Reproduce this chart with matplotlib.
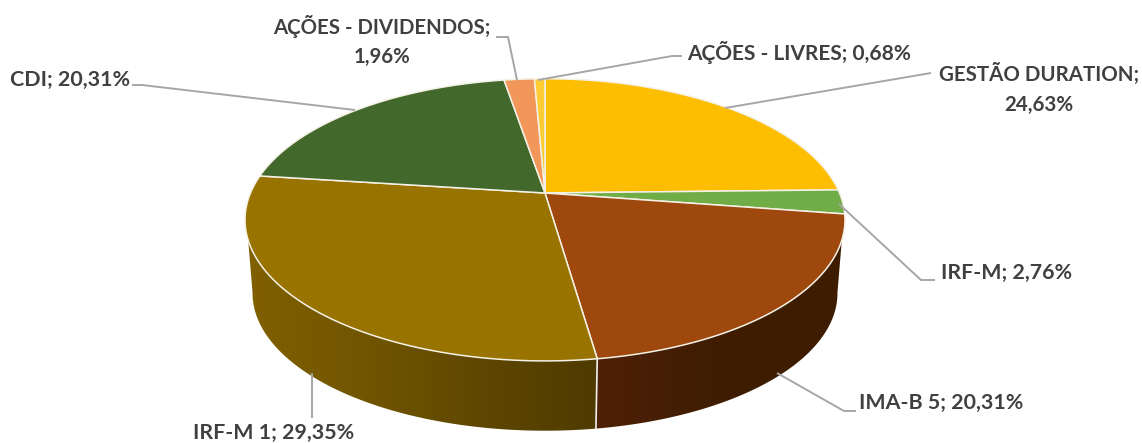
#! /usr/bin/python3
#-*- coding: utf-8 -*-

import numpy as np
import matplotlib
matplotlib.use('Agg')
import matplotlib.pyplot as plt
from matplotlib.colors import LinearSegmentedColormap
from matplotlib.patches import Polygon

names = ['GESTÃO DURATION', 'IRF-M', 'IMA-B 5', 'IRF-M 1', 'CDI',
         'AÇÕES - DIVIDENDOS', 'AÇÕES - LIVRES']
values = [24.63, 2.76, 20.31, 29.35, 20.31, 1.96, 0.68]

colors = ['#FDBD00', '#70AD47', '#9E480E', '#997300', '#43682B', '#F1975A', '#FFCD33']
wall_colors = {2: ['#4F2106', '#431E03', '#3E1C00', '#3E1C00'],
               3: ['#806000', '#715500', '#5F4700', '#4F3B00']}

## pie geometry, in pixels (perspective view of a disc)
cx, cy = 545, 193
rx, ry, k = 294.5, 136, 0.19
depth_y, shrink = 74, 0.975
lead_col = '#A6A6A6'
text_col = '#404040'

## label centre and leader line for every slice
label_pos = [(1039, 89), (1007, 273), (941, 403), (274, 433), (70, 80), (382, 41), (799, 52)]
label_break = [True, False, False, False, False, True, False]
## Lato runs wider than the original font on the long capitals
label_size = [14.8, 15.4, 15.4, 15.4, 15.4, 14.7, 15.0]
leaders = [[(725, 108), (931, 73)],
           [(839, 204), (921, 280), (935, 280)],
           [(777, 373), (844, 411), (856, 411)],
           [(312, 373), (312, 418)],
           [(355, 110), (142, 85), (132, 85)],
           [(517, 80), (508, 37), (496, 37)],
           [(538, 80), (672, 56), (682, 56)]]


def top_xy(t):
    ## t in degrees, clockwise from 12 o'clock
    u = np.sin(np.radians(t))
    v = np.cos(np.radians(t))
    w = 1 + k * v
    return cx + rx * u / w, cy - ry * v / w


def bottom_xy(t):
    x, y = top_xy(t)
    return cx + shrink * (x - cx), cy + depth_y + shrink * (y - cy)


def arc(func, t0, t1, n=200):
    x, y = func(np.linspace(t0, t1, n))
    return np.column_stack((x, y))


fig = plt.figure(figsize=(11.42, 4.43), dpi=100)
ax = fig.add_axes([0, 0, 1, 1])
plt.rcParams['font.family'] = ['Lato', 'DejaVu Sans']

edges = np.concatenate(([0], np.cumsum(values))) * 3.6
split = edges[3]

## side walls, the outer edge leaves the top ellipse a bit under its extreme point
walls = [(2, (109, split), (split, 100.7)),
         (3, (split, 251), (259.3, split))]
for idx, top_span, bot_span in walls:
    pts = np.vstack((arc(top_xy, *top_span), arc(bottom_xy, *bot_span)))
    poly = Polygon(pts, closed=True, fc='none', ec='none')
    ax.add_patch(poly)
    cmap = LinearSegmentedColormap.from_list('wall%d' % idx, wall_colors[idx])
    grad = np.linspace(0, 1, 256).reshape(1, -1)
    x0, x1 = pts[:, 0].min(), pts[:, 0].max()
    im = ax.imshow(grad, cmap=cmap, aspect='auto', interpolation='bilinear',
                   extent=[x0, x1, pts[:, 1].max(), pts[:, 1].min()], zorder=1)
    im.set_clip_path(poly)

## seam between the two walls
sx, sy = top_xy(split)
bx, by = bottom_xy(split)
ax.plot([sx, bx], [sy, by], color='#F2F2F2', lw=1.2, zorder=2)

## top face
for i in range(len(values)):
    pts = np.vstack(([(cx, cy)], arc(top_xy, edges[i], edges[i + 1])))
    ax.add_patch(Polygon(pts, closed=True, fc=colors[i], ec='#F4F1E6', lw=1.1,
                         joinstyle='round', zorder=3))

## labels and leader lines
for i in range(len(values)):
    lx, ly = zip(*leaders[i])
    ax.plot(lx, ly, color=lead_col, lw=1.4, zorder=4, solid_capstyle='butt')
    val = '{:.2f}%'.format(values[i]).replace('.', ',')
    sep = '\n' if label_break[i] else ' '
    ax.text(label_pos[i][0], label_pos[i][1], names[i] + ';' + sep + val,
            ha='center', va='center', ma='center', fontsize=label_size[i], fontweight='bold',
            color=text_col, linespacing=1.6, zorder=5)

ax.set_xlim(0, 1142)
ax.set_ylim(443, 0)
ax.axis('off')
fig.savefig('out.png', dpi=100, facecolor='white')
